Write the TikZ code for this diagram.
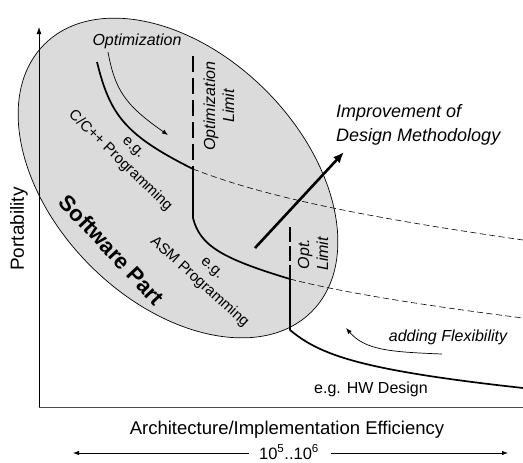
\documentclass[tikz,border=0pt]{standalone}
\usepackage{fontspec}
\setmainfont{Liberation Sans}
\usetikzlibrary{arrows.meta}
\begin{document}
\begin{tikzpicture}[x=1pt,y=-1pt,
  curve/.style={line width=1.7pt, line join=round},
  dashln/.style={line width=0.6pt, dash pattern=on 6pt off 3.5pt},
  limA/.style={line width=2.6pt, dash pattern=on 16pt off 6pt},
  limB/.style={line width=2pt, dash pattern=on 15pt off 4pt},
  thinarrow/.style={line width=0.7pt, -{Latex[length=6pt,width=4.5pt]}},
  lbl/.style={inner sep=0pt, font=\fontsize{16}{19}\selectfont},
  ilbl/.style={inner sep=0pt, font=\fontsize{16}{19}\selectfont\itshape},
  slbl/.style={inner sep=0pt, font=\fontsize{15}{19}\selectfont}]
\useasboundingbox (0,0) rectangle (523,463);
% software ellipse
\draw[fill=black!14, line width=0.7pt, shift={(178,178)}, rotate=-45]
  (0,0) ellipse [x radius=189pt, y radius=124pt];
% axes
\coordinate (O) at (39,407);
\coordinate (Ytop) at (39,27);
\coordinate (Xend) at (523,407);
\draw[line width=0.8pt, -{Latex[length=7pt,width=5pt]}] (O) -- (Ytop);
\draw[line width=1pt, black!70] (O) -- (Xend);
% main curve coordinates
\coordinate (c0) at (97,62);
\coordinate (c1) at (193,169);
\coordinate (c2) at (193,218);
\coordinate (c3) at (290,279);
\coordinate (c4) at (290,330);
\coordinate (c5) at (523,388);
\draw[curve] (c0) .. controls (110,115) and (125,135) .. (c1) -- (c2)
  .. controls (200,245) and (220,258) .. (c3) -- (c4)
  .. controls (320,355) and (360,370) .. (c5);
% dashed continuations
\coordinate (d1) at (523,240);
\coordinate (d2) at (523,318);
\draw[dashln] (c1) .. controls (260,195) and (350,215) .. (d1);
\draw[dashln] (c3) .. controls (340,292) and (420,305) .. (d2);
% limits
\coordinate (lA) at (193,56);
\coordinate (lB) at (290,227);
\draw[limA] (lA) -- (c1);
\draw[limB] (lB) -- (c3);
% improvement arrow
\coordinate (i0) at (255,248);
\coordinate (i1) at (344,152);
\draw[line width=2.6pt, -{Latex[length=11pt,width=9pt]}] (i0) -- (i1);
% optimization arrow
\coordinate (o0) at (108,52);
\coordinate (o1) at (168,135);
\draw[thinarrow] (o0) .. controls (115,90) and (125,105) .. (o1);
% flexibility arrow
\coordinate (f0) at (442,354);
\coordinate (f1) at (346,328);
\draw[thinarrow] (f0) .. controls (390,352) and (365,350) .. (f1);
% range arrows
\node[inner sep=0pt, font=\fontsize{16.5}{19}\selectfont] (rng) at (289,452) {10\textsuperscript{5}..10\textsuperscript{6}};
\coordinate (rl) at (73,453);
\coordinate (rr) at (508,453);
\draw[line width=0.8pt, -{Latex[length=6pt,width=4.5pt]}] ([xshift=-10pt]rng.west |- rl) -- (rl);
\draw[line width=0.8pt, -{Latex[length=6pt,width=4.5pt]}] ([xshift=12pt]rng.east |- rr) -- (rr);
% texts
\node[inner sep=0pt, rotate=90, font=\fontsize{19}{22}\selectfont] (port) at (19,229) {Portability};
\node[inner sep=0pt, font=\fontsize{18.5}{22}\selectfont] (xlab) at (287,430) {Architecture/Implementation Efficiency};
\node[ilbl] (opt) at (137,41) {Optimization};
\node[ilbl, rotate=90, align=center] (optlim) at (219,106) {Optimization\\Limit};
\node[ilbl, rotate=90, align=center] (optlim2) at (313,254) {Opt.\\Limit};
\node[slbl, rotate=-44, align=center] (cpp) at (126,155) {e.g.\\C/C++ Programming};
\node[slbl, rotate=-42, align=center] (asm) at (205,276) {e.g.\\ASM Programming};
\node[inner sep=0pt, rotate=-47, font=\fontsize{22}{26}\selectfont\bfseries] (sw) at (112,250) {Software Part};
\node[inner sep=0pt, anchor=west, align=left, font=\fontsize{18}{24}\selectfont\itshape] (impr) at (336,125) {Improvement of\\Design Methodology};
\node[ilbl] (flex) at (448,337) {adding Flexibility};
\node[lbl] (hw) at (371,389) {e.g. HW Design};
\end{tikzpicture}
\end{document}
